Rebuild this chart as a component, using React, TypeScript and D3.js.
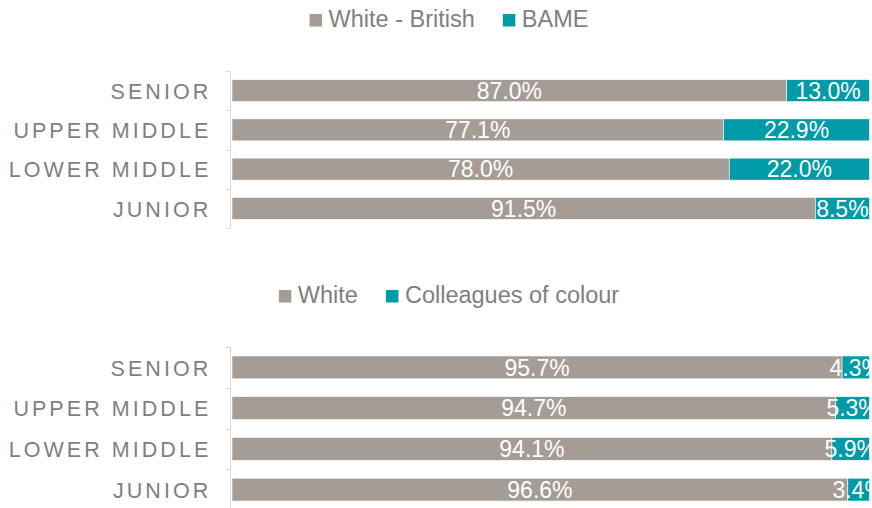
import React, { useEffect, useRef } from "react";
import * as d3 from "d3";

const categories = ["SENIOR", "UPPER MIDDLE", "LOWER MIDDLE", "JUNIOR"];

const chart1Series = ["White - British", "BAME"];
const chart1White = [87.0, 77.1, 78.0, 91.5];
const chart1Bame = [13.0, 22.9, 22.0, 8.5];

const chart2Series = ["White", "Colleagues of colour"];
const chart2White = [95.7, 94.7, 94.1, 96.6];
const chart2Colour = [4.3, 5.3, 5.9, 3.4];

const GREY = "#a49c95";
const TEAL = "#009ba6";
const TEXT = "#7f7f7f";
const AXIS = "#d9d9d9";
const FONT = "Arial, 'Liberation Sans', sans-serif";

const W = 872;
const H = 508;

type Panel = {
  series: string[];
  a: number[];
  b: number[];
  legendY: number;
  bandTop: number;
  bandBottom: number;
  axisBottom: number;
};

const panels: Panel[] = [
  { series: chart1Series, a: chart1White, b: chart1Bame, legendY: 27, bandTop: 71, bandBottom: 228, axisBottom: 228 },
  { series: chart2Series, a: chart2White, b: chart2Colour, legendY: 303, bandTop: 347, bandBottom: 510, axisBottom: 510 },
];

export default function App() {
  const ref = useRef<SVGSVGElement | null>(null);

  useEffect(() => {
    const svg = d3.select(ref.current);
    svg.selectAll("*").remove();

    const x = d3.scaleLinear().domain([0, 100]).range([232, 869.5]);
    const axisX = 230.5;

    panels.forEach((p) => {
      const y = d3
        .scaleBand<string>()
        .domain(categories)
        .range([p.bandTop, p.bandBottom])
        .paddingInner(0.44)
        .paddingOuter(0.22);
      const g = svg.append("g");

      // axis line and ticks
      g.append("line")
        .attr("x1", axisX).attr("x2", axisX)
        .attr("y1", p.bandTop).attr("y2", p.axisBottom)
        .attr("stroke", AXIS).attr("stroke-width", 1);
      const ticks = d3.range(categories.length + 1).map((i) => p.bandTop + (p.bandBottom - p.bandTop) * i / categories.length);
      g.selectAll(".tick")
        .data(ticks)
        .join("line")
        .attr("x1", axisX - 4.5).attr("x2", axisX)
        .attr("y1", (d) => Math.round(d) + 0.5).attr("y2", (d) => Math.round(d) + 0.5)
        .attr("stroke", AXIS).attr("stroke-width", 1);

      const rows = categories.map((c, i) => ({ c, a: p.a[i], b: p.b[i] }));

      g.selectAll(".barA")
        .data(rows)
        .join("rect")
        .attr("x", x(0))
        .attr("y", (d) => y(d.c)!)
        .attr("width", (d) => x(d.a) - x(0))
        .attr("height", y.bandwidth())
        .attr("fill", GREY)
        .attr("stroke", "#ffffff").attr("stroke-width", 0.6);
      g.selectAll(".barB")
        .data(rows)
        .join("rect")
        .attr("x", (d) => x(d.a))
        .attr("y", (d) => y(d.c)!)
        .attr("width", (d) => x(d.a + d.b) - x(d.a))
        .attr("height", y.bandwidth())
        .attr("fill", TEAL)
        .attr("stroke", "#ffffff").attr("stroke-width", 0.6);

      const fmt = (v: number) => v.toFixed(1) + "%";
      g.selectAll(".labA")
        .data(rows)
        .join("text")
        .attr("x", (d) => (x(0) + x(d.a)) / 2)
        .attr("y", (d) => y(d.c)! + y.bandwidth() / 2 + 8.3)
        .attr("text-anchor", "middle")
        .attr("fill", "#ffffff")
        .attr("font-family", FONT)
        .attr("font-size", 23)
        .text((d) => fmt(d.a));
      g.selectAll(".labB")
        .data(rows)
        .join("text")
        .attr("x", (d) => (x(d.a) + x(d.a + d.b)) / 2)
        .attr("y", (d) => y(d.c)! + y.bandwidth() / 2 + 8.3)
        .attr("text-anchor", "middle")
        .attr("fill", "#ffffff")
        .attr("font-family", FONT)
        .attr("font-size", 23)
        .text((d) => fmt(d.b));

      g.selectAll(".cat")
        .data(categories)
        .join("text")
        .attr("x", 211.3)
        .attr("y", (d) => y(d)! + y.bandwidth() / 2 + 8.2)
        .attr("text-anchor", "end")
        .attr("fill", TEXT)
        .attr("font-family", FONT)
        .attr("font-size", 21.5)
        .attr("letter-spacing", 3.05)
        .text((d) => d);

      const lg = g.append("g");
      const colors = [GREY, TEAL];
      const items = p.series.map((s, i) => {
        const it = lg.append("g");
        it.append("rect")
          .attr("x", 0).attr("y", p.legendY - 13)
          .attr("width", 12.5).attr("height", 12.5)
          .attr("fill", colors[i]);
        const t = it.append("text")
          .attr("x", 19).attr("y", p.legendY)
          .attr("fill", TEXT)
          .attr("font-family", FONT)
          .attr("font-size", 23.5)
          .text(s);
        const w = (t.node() as SVGTextElement).getComputedTextLength();
        return { it, w: 19 + w };
      });
      const gap = 28;
      const total = d3.sum(items, (d) => d.w) + gap * (items.length - 1);
      let cx = 449 - total / 2;
      items.forEach((d) => {
        d.it.attr("transform", `translate(${cx},0)`);
        cx += d.w + gap;
      });
    });
  }, []);

  return (
    <svg
      ref={ref}
      width={W}
      height={H}
      style={{ position: "absolute", left: 0, top: 0, background: "#ffffff" }}
    />
  );
}
